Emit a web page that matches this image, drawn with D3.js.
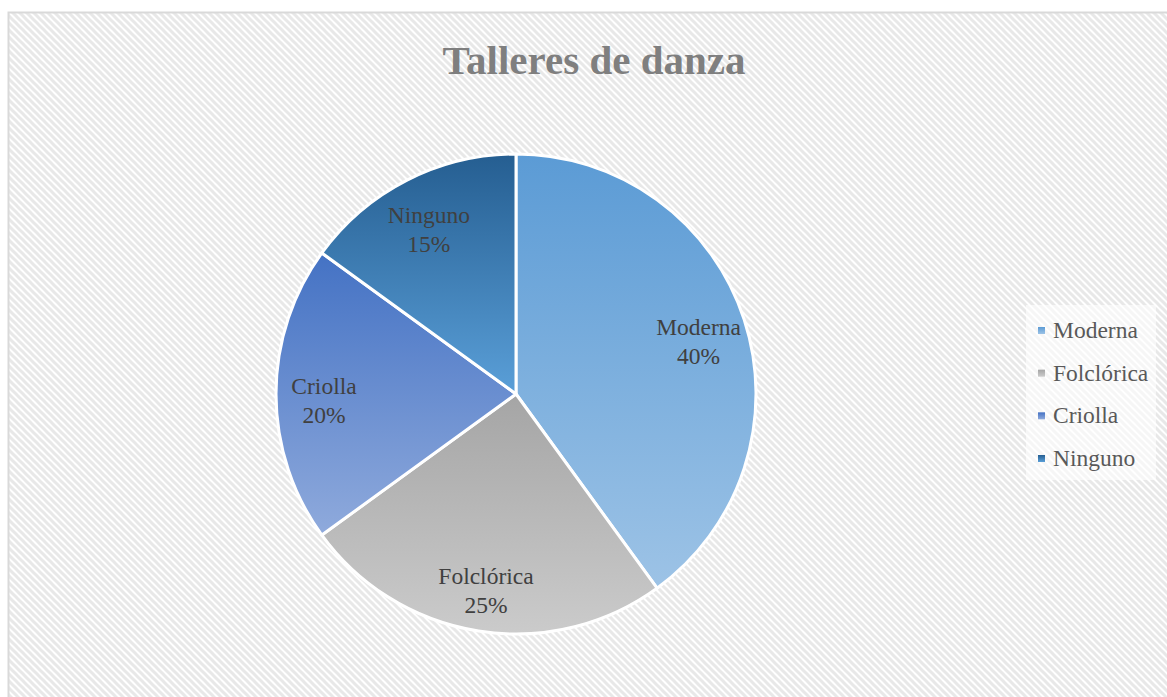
<!DOCTYPE html>
<html>
<head>
<meta charset="utf-8">
<script src="https://cdn.jsdelivr.net/npm/d3@7"></script>
<style>
  html, body { margin: 0; padding: 0; background: #fff; }
  svg { display: block; }
</style>
</head>
<body>
<div class="Canvas"></div>
<script>
// data
const categories = ['Moderna', 'Folclórica', 'Criolla', 'Ninguno'];
const values = [40, 25, 20, 15];
const labels = ['40%', '25%', '20%', '15%'];
const titleText = 'Talleres de danza';

// gradient top / bottom per slice
const colorsTop = ['#5b9bd5', '#a5a5a5', '#4472c4', '#255e91'];
const colorsBottom = ['#9dc3e6', '#cbcbcb', '#8faadc', '#5a9fd8'];

const width = 1167;
const height = 697;
const cx = 516;
const cy = 394;
const radius = 240;
const labelRadius = 192;
const serif = '"Liberation Serif", "Times New Roman", serif';

const svg = d3.select('.Canvas').append('svg')
    .attr('width', width)
    .attr('height', height);

const defs = svg.append('defs');

// diagonal hatch for the chart area
const pat = defs.append('pattern')
    .attr('id', 'hatch')
    .attr('patternUnits', 'userSpaceOnUse')
    .attr('width', 7)
    .attr('height', 7);
pat.append('rect').attr('width', 7).attr('height', 7).attr('fill', '#ffffff');
pat.append('path')
    .attr('d', 'M-2,-2 L9,9 M-2,5 L2,9 M5,-2 L9,2')
    .attr('stroke', '#e8e8e8')
    .attr('stroke-width', 3);

categories.forEach((c, i) => {
    const gr = defs.append('linearGradient')
        .attr('id', `grad${i}`)
        .attr('x1', 0).attr('y1', 0).attr('x2', 0).attr('y2', 1);
    gr.append('stop').attr('offset', '0%').attr('stop-color', colorsTop[i]);
    gr.append('stop').attr('offset', '100%').attr('stop-color', colorsBottom[i]);
});

// chart area with border
svg.append('rect')
    .attr('x', 8.5).attr('y', 12.5)
    .attr('width', width + 10).attr('height', height + 10)
    .attr('fill', 'url(#hatch)')
    .attr('stroke', '#d9d9d9')
    .attr('stroke-width', 2);

// title
svg.append('text')
    .attr('x', 594)
    .attr('y', 74)
    .attr('text-anchor', 'middle')
    .attr('font-family', serif)
    .attr('font-size', '41px')
    .attr('font-weight', 'bold')
    .attr('fill', '#7f7f7f')
    .text(titleText);

// pie
const pie = d3.pie().sort(null).value((d) => d);
const arcs = pie(values);
const arc = d3.arc().innerRadius(0).outerRadius(radius);
const labelArc = d3.arc().innerRadius(labelRadius).outerRadius(labelRadius);

const g = svg.append('g').attr('transform', `translate(${cx},${cy})`);

g.selectAll('path.slice')
    .data(arcs)
    .enter()
    .append('path')
    .attr('class', 'slice')
    .attr('d', arc)
    .attr('fill', (d, i) => `url(#grad${i})`)
    .attr('stroke', '#ffffff')
    .attr('stroke-width', 3)
    .attr('stroke-linejoin', 'round');

const lbl = g.selectAll('text.lbl')
    .data(arcs)
    .enter()
    .append('text')
    .attr('class', 'lbl')
    .attr('text-anchor', 'middle')
    .attr('font-family', serif)
    .attr('font-size', '23.5px')
    .attr('fill', '#404040')
    .attr('transform', (d) => `translate(${labelArc.centroid(d)})`);
lbl.append('tspan').attr('x', 0).attr('y', 0).text((d, i) => categories[i]);
lbl.append('tspan').attr('x', 0).attr('y', 29).text((d, i) => labels[i]);

// legend
const legend = svg.append('g');
legend.append('rect')
    .attr('x', 1026).attr('y', 305)
    .attr('width', 130).attr('height', 175)
    .attr('fill', '#ffffff')
    .attr('fill-opacity', 0.6);

const legendY = d3.scalePoint().domain(categories).range([330, 458]);
const items = legend.selectAll('g.item')
    .data(categories)
    .enter()
    .append('g')
    .attr('class', 'item')
    .attr('transform', (d) => `translate(1038,${legendY(d)})`);
items.append('rect')
    .attr('x', 0).attr('y', -3)
    .attr('width', 7).attr('height', 7)
    .attr('fill', (d, i) => `url(#grad${i})`);
items.append('text')
    .attr('x', 15)
    .attr('y', 8)
    .attr('font-family', serif)
    .attr('font-size', '23.5px')
    .attr('fill', '#595959')
    .text((d) => d);
</script>
</body>
</html>
